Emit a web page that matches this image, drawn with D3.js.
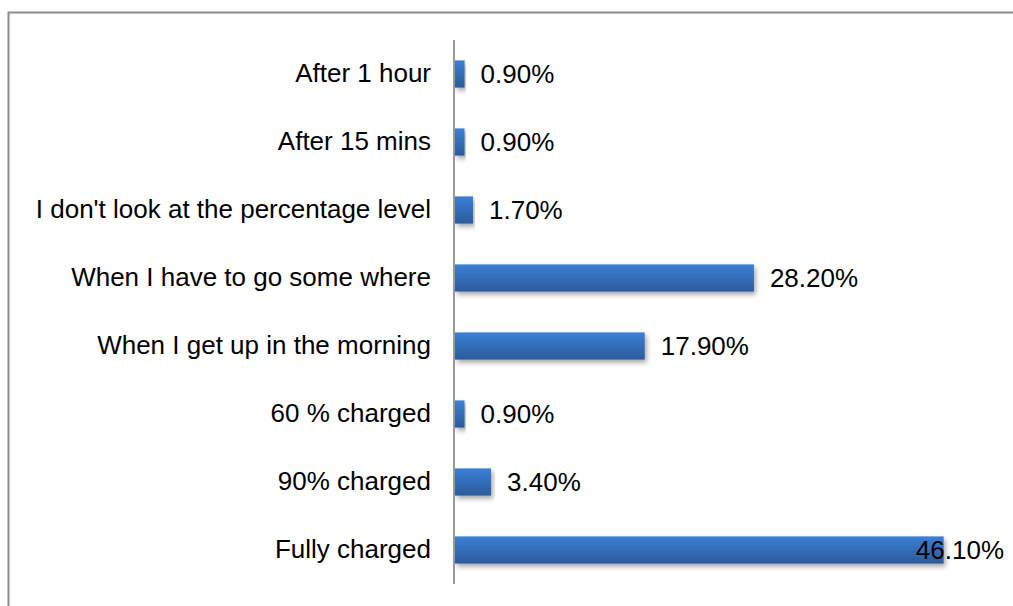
<!DOCTYPE html>
<html>
<head>
<meta charset="utf-8">
<script src="https://cdn.jsdelivr.net/npm/d3@7"></script>
<style>
  body { margin: 0; background: #fff; }
  svg { display: block; font-family: "Liberation Sans", Arial, Helvetica, sans-serif; }
</style>
</head>
<body>
<div id="chart"></div>
<script>
// answers, top to bottom as drawn
const categories = [
  "After 1 hour",
  "After 15 mins",
  "I don't look at the percentage level",
  "When I have to go some where",
  "When I get up in the morning",
  "60 % charged",
  "90% charged",
  "Fully charged"
];
const values = [0.9, 0.9, 1.7, 28.2, 17.9, 0.9, 3.4, 46.1];
const valueLabels = ["0.90%", "0.90%", "1.70%", "28.20%", "17.90%", "0.90%", "3.40%", "46.10%"];

const width = 1013, height = 606;
const axisX = 455, plotTop = 40, plotBottom = 584, rightEdge = 1004;

const svg = d3.select("#chart").append("svg")
  .attr("width", width).attr("height", height);

const defs = svg.append("defs");
const grad = defs.append("linearGradient").attr("id", "barGrad")
  .attr("x1", 0).attr("y1", 0).attr("x2", 0).attr("y2", 1);
grad.append("stop").attr("offset", "0%").attr("stop-color", "#3c7fd6");
grad.append("stop").attr("offset", "100%").attr("stop-color", "#2b5b9b");

const shadow = defs.append("filter").attr("id", "shadow")
  .attr("x", "-5%").attr("y", "-20%").attr("width", "115%").attr("height", "160%");
shadow.append("feDropShadow").attr("dx", 2).attr("dy", 3).attr("stdDeviation", 2.5)
  .attr("flood-color", "#000").attr("flood-opacity", 0.35);

// outer frame (runs off right/bottom)
svg.append("path")
  .attr("d", `M8.5,${height + 2} V12.5 H${width + 2}`)
  .attr("fill", "none").attr("stroke", "#8c8c8c").attr("stroke-width", 2);

const y = d3.scaleBand().domain(categories).range([plotTop, plotBottom])
  .paddingInner(0.6).paddingOuter(0.3);
const x = d3.scaleLinear().domain([0, 50]).range([axisX, axisX + 530]);

const data = categories.map((c, i) => ({ cat: c, v: values[i], label: valueLabels[i] }));

svg.append("g").selectAll("rect")
  .data(data).join("rect")
  .attr("x", x(0))
  .attr("y", d => y(d.cat))
  .attr("width", d => x(d.v) - x(0))
  .attr("height", y.bandwidth())
  .attr("fill", "url(#barGrad)")
  .attr("filter", "url(#shadow)");

// category axis
const yAxis = d3.axisLeft(y).tickSize(0).tickPadding(23);
const gy = svg.append("g").attr("transform", `translate(${axisX - 1},0)`).call(yAxis);
gy.select(".domain").attr("stroke", "#999").attr("stroke-width", 2)
  .attr("d", `M0,${plotTop}V${plotBottom}`);
gy.selectAll(".tick text")
  .attr("font-size", 26).attr("font-family", "Liberation Sans, Arial, sans-serif")
  .attr("fill", "#000");

// value labels
svg.append("g").selectAll("text")
  .data(data).join("text")
  .attr("y", d => y(d.cat) + y.bandwidth() / 2)
  .attr("dy", "0.35em")
  .attr("font-size", 26)
  .attr("fill", "#000")
  .text(d => d.label)
  .each(function(d) {
    const w = this.getComputedTextLength();
    let tx = x(d.v) + 16;
    if (tx + w > rightEdge) tx = rightEdge - w;
    d3.select(this).attr("x", tx);
  });
</script>
</body>
</html>
